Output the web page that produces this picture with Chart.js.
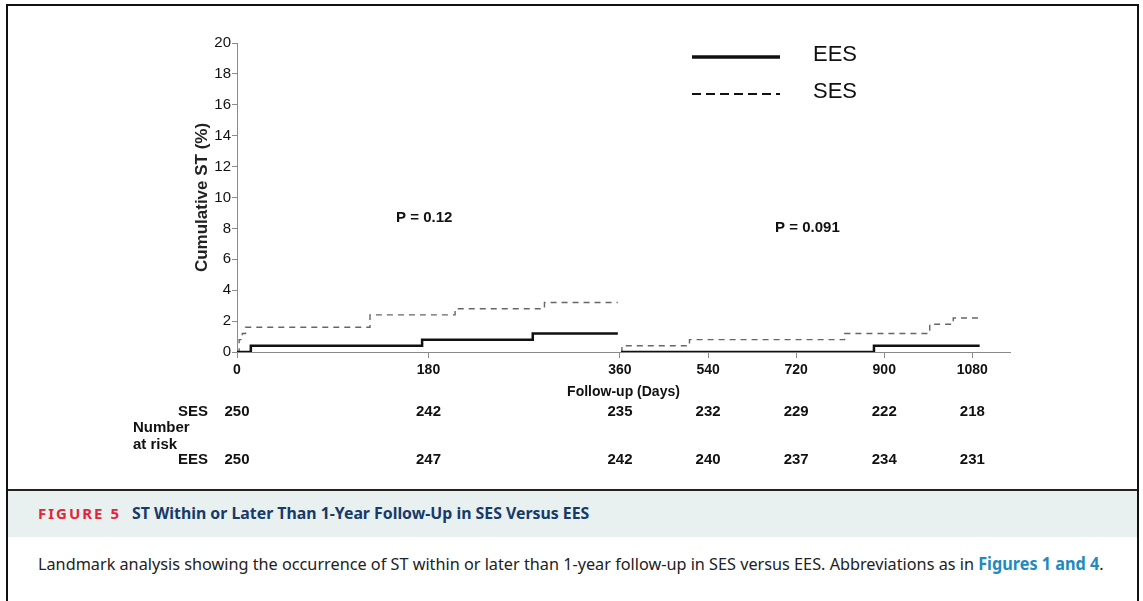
<!DOCTYPE html>
<html>
<head>
<meta charset="utf-8">
<script src="https://cdn.jsdelivr.net/npm/chart.js@4.4.1/dist/chart.umd.min.js"></script>
<style>
  body { margin: 0; background: #fff; width: 1143px; height: 601px; overflow: hidden; position: relative; }
  #plot { position: absolute; left: 0; top: 0; width: 1143px; height: 488px; }
  #frame { position: absolute; left: 6px; top: 4px; width: 1133px; height: 640px; border: 2px solid #111; box-sizing: border-box; pointer-events: none; }
  #rule { position: absolute; left: 6px; top: 489px; width: 1133px; height: 2px; background: #222; }
  #band { position: absolute; left: 8px; top: 491px; width: 1129px; height: 46px; background: #e8f0f0; }
  #band .fig { position: absolute; left: 30px; top: 12px; font: bold 15px "Noto Sans", sans-serif; letter-spacing: 2px; color: #e2263a; white-space: nowrap; }
  #band .ttl { position: absolute; left: 124px; top: 11px; font: bold 16px "Noto Sans", sans-serif; color: #173a6a; white-space: nowrap; transform: scaleX(0.99); transform-origin: left top; }
  #caption { position: absolute; left: 38px; top: 552px; font: 17px "Noto Sans", sans-serif; color: #222; white-space: nowrap; transform: scaleX(0.955); transform-origin: left top; }
  #caption b { color: #1f8abf; }
</style>
</head>
<body>
<div id="plot"><canvas id="kmChart"></canvas></div>
<div id="rule"></div>
<div id="band"><span class="fig">FIGURE 5</span><span class="ttl">ST Within or Later Than 1-Year Follow-Up in SES Versus EES</span></div>
<div id="caption">Landmark analysis showing the occurrence of ST within or later than 1-year follow-up in SES versus EES. Abbreviations as in <b>Figures 1 and 4</b>.</div>
<div id="frame"></div>
<script>
// follow-up days and cumulative ST (%) for each landmark segment
const eesEarlyDays = [0, 13, 174, 278, 358];
const eesEarlyPct = [0, 0.4, 0.8, 1.2, 1.2];
const sesEarlyDays = [0, 2, 5, 8, 125, 205, 289, 358];
const sesEarlyPct = [0, 0.8, 1.2, 1.6, 2.4, 2.8, 3.2, 3.2];
const eesLateDays = [362, 879, 1095];
const eesLatePct = [0, 0.4, 0.4];
const sesLateDays = [362, 364, 502, 819, 993, 1041, 1100];
const sesLatePct = [0, 0.4, 0.8, 1.2, 1.8, 2.2, 2.2];

const tickDays = [0, 180, 360, 540, 720, 900, 1080];
const yTicks = [0, 2, 4, 6, 8, 10, 12, 14, 16, 18, 20];
const sesAtRisk = [250, 242, 235, 232, 229, 222, 218];
const eesAtRisk = [250, 247, 242, 240, 237, 234, 231];
const pLabels = ['P = 0.12', 'P = 0.091'];
const pDays = [176, 743];
const pValuesY = [8.7, 8.05];

// the axis after the 1-year landmark is compressed
const LANDMARK = 360;
const LATE_SCALE = 0.46;
const MAX_DAY = 1157;

function toAxis(day) {
    return day <= LANDMARK ? day : LANDMARK + (day - LANDMARK) * LATE_SCALE;
}

function toPoints(days, pct) {
    return days.map((d, i) => ({x: toAxis(d), y: pct[i]}));
}

const solid = {borderColor: '#111', borderWidth: 2.5};
const dashed = {borderColor: '#666', borderWidth: 1.4, borderDash: [6, 5]};

const extras = {
    id: 'extras',
    afterDraw(chart) {
        const ctx = chart.ctx;
        const xs = chart.scales.x;
        const ys = chart.scales.y;
        ctx.save();
        ctx.fillStyle = '#111';

        // p values
        ctx.font = 'bold 15px "Liberation Sans", Arial, sans-serif';
        ctx.textAlign = 'center';
        ctx.textBaseline = 'middle';
        pLabels.forEach((t, i) => {
            ctx.fillText(t, xs.getPixelForValue(toAxis(pDays[i])), ys.getPixelForValue(pValuesY[i]));
        });

        // number at risk
        ctx.font = 'bold 15px "Liberation Sans", Arial, sans-serif';
        tickDays.forEach((d, i) => {
            const px = xs.getPixelForValue(toAxis(d));
            ctx.fillText(sesAtRisk[i], px, 412);
            ctx.fillText(eesAtRisk[i], px, 460);
        });
        ctx.textAlign = 'right';
        ctx.fillText('SES', 208, 412);
        ctx.fillText('EES', 208, 460);
        ctx.textAlign = 'left';
        ctx.fillText('Number', 133, 428);
        ctx.fillText('at risk', 133, 445);

        // legend
        const items = [chart.data.datasets[0], chart.data.datasets[1]];
        ctx.font = '22px "Liberation Sans", Arial, sans-serif';
        items.forEach((ds, i) => {
            const y = 57 + i * 37;
            ctx.strokeStyle = '#111';
            ctx.lineWidth = ds.borderDash ? 2 : 3.5;
            ctx.setLineDash(ds.borderDash ? [9, 5] : []);
            ctx.beginPath();
            ctx.moveTo(692, y);
            ctx.lineTo(780, y);
            ctx.stroke();
            ctx.fillText(ds.label, 813, y - 2);
        });
        ctx.restore();
    }
};

new Chart(document.getElementById('kmChart'), {
    type: 'line',
    data: {
        datasets: [
            Object.assign({label: 'EES', data: toPoints(eesEarlyDays, eesEarlyPct)}, solid),
            Object.assign({label: 'SES', data: toPoints(sesEarlyDays, sesEarlyPct)}, dashed),
            Object.assign({label: 'EES', data: toPoints(eesLateDays, eesLatePct)}, solid),
            Object.assign({label: 'SES', data: toPoints(sesLateDays, sesLatePct)}, dashed)
        ]
    },
    options: {
        responsive: true,
        maintainAspectRatio: false,
        animation: false,
        layout: {padding: {left: 180, top: 43, right: 133, bottom: 86}},
        elements: {
            point: {radius: 0},
            line: {stepped: true, tension: 0, fill: false}
        },
        plugins: {
            legend: {display: false},
            tooltip: {enabled: false}
        },
        scales: {
            x: {
                type: 'linear',
                min: 0,
                max: toAxis(MAX_DAY),
                afterBuildTicks: (scale) => {
                    scale.ticks = tickDays.map(d => ({value: toAxis(d)}));
                },
                afterFit: (scale) => { scale.height = 50; },
                border: {color: '#8a8a8a', width: 1},
                grid: {drawOnChartArea: false, drawTicks: true, tickLength: 6, color: '#8a8a8a'},
                ticks: {
                    autoSkip: false,
                    maxRotation: 0,
                    padding: 4,
                    color: '#111',
                    font: {family: '"Liberation Sans", Arial, sans-serif', size: 14, weight: 'bold'},
                    callback: (value, index) => tickDays[index]
                },
                title: {
                    display: true,
                    text: 'Follow-up (Days)',
                    color: '#111',
                    padding: {top: 0, bottom: 1},
                    font: {family: '"Liberation Sans", Arial, sans-serif', size: 14, weight: 'bold'}
                }
            },
            y: {
                min: 0,
                max: 20,
                afterBuildTicks: (scale) => {
                    scale.ticks = yTicks.map(v => ({value: v}));
                },
                afterFit: (scale) => { scale.width = 57; },
                border: {color: '#8a8a8a', width: 1},
                grid: {drawOnChartArea: false, drawTicks: true, tickLength: 5, color: '#8a8a8a'},
                ticks: {
                    padding: 1,
                    color: '#111',
                    font: {family: '"Liberation Sans", Arial, sans-serif', size: 15}
                },
                title: {
                    display: true,
                    text: 'Cumulative ST (%)',
                    color: '#222',
                    padding: {top: 12, bottom: 0},
                    font: {family: '"Liberation Sans", Arial, sans-serif', size: 17, weight: 'bold'}
                }
            }
        }
    },
    plugins: [extras]
});
</script>
</body>
</html>
